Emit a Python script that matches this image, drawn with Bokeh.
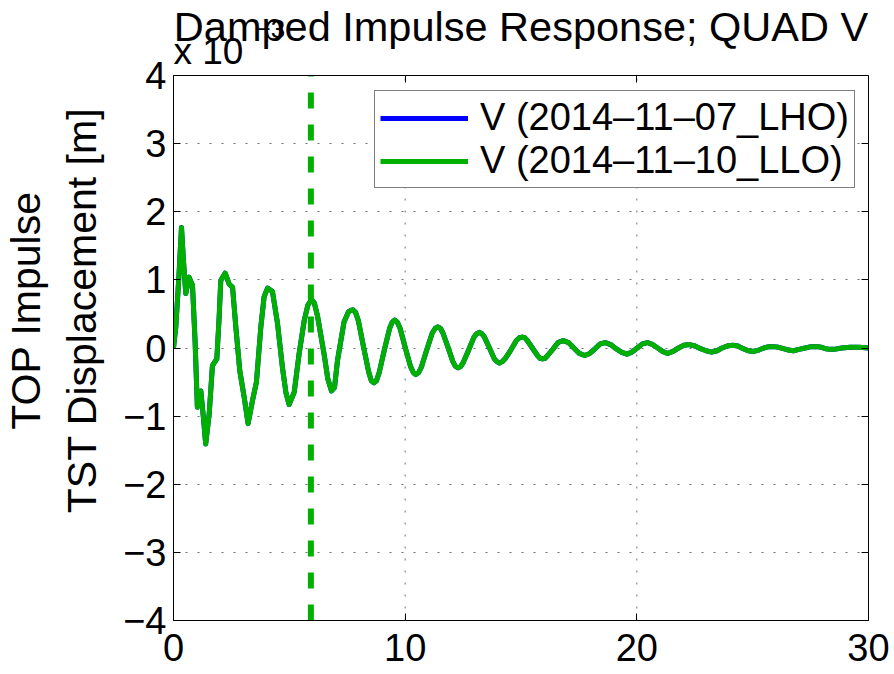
import math
from bokeh.plotting import figure
from bokeh.models import Range1d, LinearAxis, FixedTicker, Label, Legend, LegendItem, Span
from bokeh.embed import file_html
from bokeh.resources import INLINE

FONT = "Liberation Sans"

TITLE = "Damped Impulse Response; QUAD V"
YLABEL = "TOP Impulse\nTST Displacement [m]"
SERIES_NAMES = ["V (2014\u201311\u201307_LHO)", "V (2014\u201311\u201310_LLO)"]
SCALE_TEXT = "x 10"
SCALE_EXP = "\u22123"

X_TICKS = [0, 10, 20, 30]
X_TICK_LABELS = ["0", "10", "20", "30"]
Y_TICKS = [-4, -3, -2, -1, 0, 1, 2, 3, 4]
Y_TICK_LABELS = ["\u22124", "\u22123", "\u22122", "\u22121", "0", "1", "2", "3", "4"]

# time [s]
T = [0.00, 0.10, 0.24, 0.345, 0.43, 0.53, 0.67, 0.82, 0.93, 1.03, 1.18, 1.29, 1.39,
     1.54, 1.68, 1.87, 1.97, 2.04, 2.23, 2.40, 2.55, 2.69, 2.86, 3.05, 3.22, 3.41,
     3.58, 3.77, 3.91, 4.06, 4.27, 4.49, 4.70, 4.85, 4.99, 5.21, 5.42, 5.64, 5.80,
     5.96, 6.08, 6.21, 6.50, 6.66, 6.82, 6.95, 7.08, 7.36, 7.55, 7.64, 7.75, 7.86,
     7.98, 8.20, 8.43, 8.54, 8.65, 8.76, 8.88, 9.10, 9.33, 9.44, 9.55, 9.66, 9.78,
     10.00, 10.23, 10.35, 10.46, 10.58, 10.70, 10.93, 11.17, 11.30, 11.41, 11.52,
     11.63, 11.85, 12.06, 12.17, 12.28, 12.40, 12.51, 12.74, 12.97, 13.09, 13.20,
     13.31, 13.42, 13.64, 13.85, 13.96, 14.07, 14.19, 14.31, 14.56, 14.80, 14.93,
     15.05, 15.16, 15.27, 15.49, 15.71, 15.82, 15.93, 16.04, 16.15, 16.37, 16.60,
     16.82, 17.05, 17.28, 17.52, 17.75, 17.97,
     18.20, 18.42, 18.64, 18.87, 19.10, 19.33, 19.57, 19.79, 20.02, 20.24, 20.46,
     20.68, 20.90, 21.11, 21.33, 21.56, 21.80, 22.03, 22.27, 22.51, 22.75, 22.99,
     23.23, 23.46, 23.68, 23.90, 24.13, 24.36, 24.59, 24.81, 25.04, 25.26, 25.48,
     25.70, 25.91, 26.12, 26.33, 26.55, 26.76, 27.00, 27.27, 27.52, 27.78, 27.96,
     28.15, 28.33, 28.51, 28.85, 29.20, 29.60, 30.00]

# displacement [x 1e-3 m]
V_LHO = [0.00, 0.31, 1.09, 1.77, 1.28, 0.80, 1.04, 0.92, 0.11, -0.87, -0.63, -1.02, -1.41,
         -0.97, -0.26, -0.16, 0.45, 0.99, 1.10, 0.94, 0.89, 0.31, -0.33, -0.72, -1.11, -0.77,
         -0.50, 0.31, 0.75, 0.88, 0.83, 0.36, -0.28, -0.65, -0.83, -0.65, -0.09, 0.40, 0.63,
         0.71, 0.66, 0.48, -0.09, -0.45, -0.63, -0.58, -0.18, 0.38, 0.53, 0.55, 0.56, 0.52,
         0.40, 0.02, -0.36, -0.48, -0.51, -0.48, -0.36, -0.03, 0.29, 0.38, 0.41, 0.38, 0.29,
         0.01, -0.27, -0.36, -0.39, -0.36, -0.28, -0.03, 0.22, 0.29, 0.31, 0.29,
         0.22, 0.01, -0.20, -0.27, -0.29, -0.27, -0.21, -0.03, 0.16, 0.21, 0.23,
         0.21, 0.16, 0.00, -0.16, -0.20, -0.22, -0.20, -0.16, -0.03, 0.11, 0.15,
         0.16, 0.15, 0.11, 0.00, -0.11, -0.15, -0.16, -0.15, -0.11, -0.02, 0.08,
         0.11, 0.08, 0.00, -0.08, -0.11, -0.08,
         -0.01, 0.06, 0.08, 0.05, -0.01, -0.06, -0.09, -0.06, 0.00, 0.06, 0.08,
         0.05, 0.00, -0.05, -0.08, -0.05, 0.00, 0.04, 0.05, 0.03, -0.01, -0.04,
         -0.06, -0.04, 0.00, 0.03, 0.04, 0.03, -0.01, -0.04, -0.05, -0.03, 0.00,
         0.02, 0.02, 0.01, -0.01, -0.03, -0.04, -0.02, 0.00, 0.02, 0.02, 0.01,
         -0.01, -0.02, -0.02, 0.00, 0.01, 0.01, 0.00]
V_LLO = list(V_LHO)

T_MARK = 5.93
X_MIN, X_MAX = 0, 30
Y_MIN, Y_MAX = -4, 4

BLUE = "#0000FF"
GREEN = "#00B000"

# geometry (pixels)
FRAME_LEFT, FRAME_W = 173, 695
AXES_TOP, AXES_H = 75, 545
PX_PER_Y = AXES_H / (Y_MAX - Y_MIN)
Y_TOP = Y_MAX + AXES_TOP / PX_PER_Y      # frame extends up to the canvas top for the heading texts

def y_at(px_from_top):
    return Y_MAX + (AXES_TOP - px_from_top) / PX_PER_Y

p = figure(frame_width=FRAME_W, frame_height=AXES_TOP + AXES_H,
           x_range=Range1d(X_MIN, X_MAX), y_range=Range1d(Y_MIN, Y_TOP),
           output_backend="svg", toolbar_location=None,
           min_border_left=FRAME_LEFT, min_border_right=26, min_border_top=0, min_border_bottom=50)
p.background_fill_color = "white"
p.border_fill_color = "white"
p.outline_line_color = None

def style_axis(ax, ticks, labels, show):
    ax.ticker = FixedTicker(ticks=ticks)
    ax.axis_line_color = "black"
    ax.major_tick_line_color = "black"
    ax.major_tick_in = 7
    ax.major_tick_out = 0
    ax.minor_tick_in = 0
    ax.minor_tick_out = 0
    ax.major_label_text_font = FONT
    ax.major_label_text_color = "black"
    if show:
        ax.major_label_overrides = {t: l for t, l in zip(ticks, labels)}
        ax.major_label_text_font_size = "38px"
    else:
        ax.major_label_overrides = {t: "" for t in ticks}
        ax.major_label_text_font_size = "1px"
        ax.major_label_standoff = 0

style_axis(p.xaxis[0], X_TICKS, X_TICK_LABELS, True)
style_axis(p.yaxis[0], Y_TICKS, Y_TICK_LABELS, True)
p.yaxis[0].bounds = (Y_MIN, Y_MAX)
p.xaxis[0].major_label_standoff = 13
p.yaxis[0].major_label_standoff = 7
p.yaxis[0].axis_label = YLABEL
p.yaxis[0].axis_label_text_font = FONT
p.yaxis[0].axis_label_text_font_size = "41px"
p.yaxis[0].axis_label_text_font_style = "normal"
p.yaxis[0].axis_label_text_color = "black"
p.yaxis[0].axis_label_text_line_height = 1.22
p.yaxis[0].axis_label_standoff = 15

right_ax = LinearAxis(bounds=(Y_MIN, Y_MAX))
style_axis(right_ax, Y_TICKS, Y_TICK_LABELS, False)
p.add_layout(right_ax, "right")

top_ax = LinearAxis(fixed_location=Y_MAX)
style_axis(top_ax, X_TICKS, X_TICK_LABELS, False)
p.add_layout(top_ax, "above")
p.add_layout(Span(location=Y_MAX, dimension="width", line_color="black", line_width=1))

p.xgrid.visible = False
p.ygrid[0].ticker = FixedTicker(ticks=Y_TICKS)
p.ygrid[0].grid_line_color = "#707070"
p.ygrid[0].grid_line_width = 1
p.ygrid[0].grid_line_dash = "2 10"
p.segment(x0=X_TICKS, y0=[Y_MIN] * len(X_TICKS), x1=X_TICKS, y1=[Y_MAX] * len(X_TICKS),
          line_color="#707070", line_width=1, line_dash="2 10", level="underlay")

r_blue = p.line(T, V_LHO, line_color=BLUE, line_width=5, line_join="round")
r_green = p.line(T, V_LLO, line_color=GREEN, line_width=5, line_join="round")
p.line([T_MARK, T_MARK], [Y_MIN, Y_MAX], line_color=GREEN, line_width=6, line_dash="16 16")

legend = Legend(items=[LegendItem(label=SERIES_NAMES[0], renderers=[r_blue]),
                       LegendItem(label=SERIES_NAMES[1], renderers=[r_green])],
                location=(201, 432), margin=0, padding=5, spacing=0,
                glyph_width=88, glyph_height=40, label_standoff=12,
                label_text_font=FONT, label_text_font_size="38px", label_text_color="black",
                border_line_color="black", border_line_width=1,
                background_fill_color="white", background_fill_alpha=1.0)
p.add_layout(legend)

# heading texts (anchor positions compensate the renderer's vertical text offset)
p.add_layout(Label(x=(X_MIN + X_MAX) / 2, y=y_at(26), text=TITLE, text_align="center",
                   text_baseline="alphabetic", text_font=FONT, text_font_size="41.5px",
                   text_color="black"))
p.add_layout(Label(x=X_MIN, y=y_at(51), text=SCALE_TEXT, text_align="left",
                   text_baseline="alphabetic", text_font=FONT, text_font_size="37px",
                   text_color="black"))
p.add_layout(Label(x=3.54, y=y_at(28.5), text=SCALE_EXP, text_align="left",
                   text_baseline="alphabetic", text_font=FONT, text_font_size="26px",
                   text_color="black"))

open("out.html", "w").write(file_html(p, INLINE))
